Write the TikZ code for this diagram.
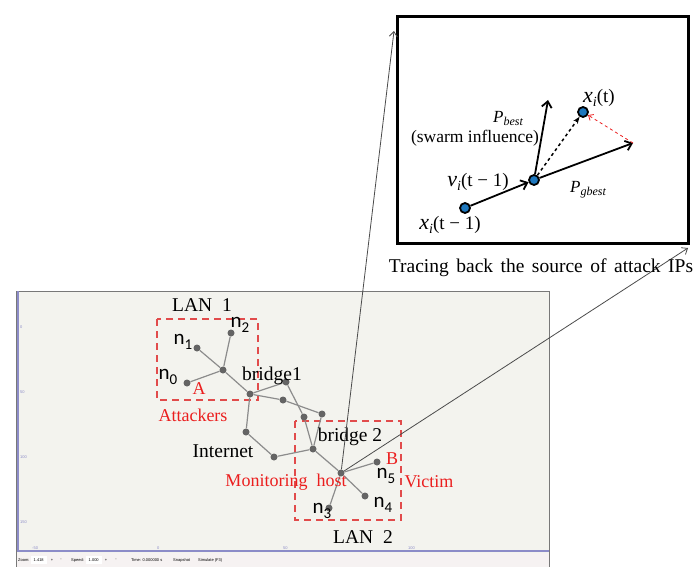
\documentclass[tikz,border=0pt]{standalone}
\usepackage{fontspec}
\setmainfont{Liberation Serif}
\newfontfamily\calib{Carlito}
\newfontfamily\uisans{Liberation Sans}
\usetikzlibrary{arrows.meta}
\definecolor{winbg}{RGB}{243,243,238}
\definecolor{barbg}{RGB}{246,242,242}
\definecolor{framegray}{RGB}{120,120,120}
\definecolor{axisblue}{RGB}{140,140,200}
\definecolor{hostgray}{RGB}{100,100,100}
\definecolor{linkgray}{RGB}{140,140,140}
\definecolor{tipgray}{RGB}{75,75,75}
\definecolor{attackred}{RGB}{235,30,30}
\definecolor{lanred}{RGB}{225,75,75}
\definecolor{partblue}{RGB}{30,120,190}
\newcommand\nlab[1]{{\calib\fontsize{21}{22}\selectfont n\raisebox{-5pt}{\fontsize{15}{15}\selectfont #1}}}
\newcommand\pvar[2]{\textit{#1}\raisebox{-3pt}{\fontsize{12}{12}\selectfont\itshape #2}}
\newcommand\xvar[2]{{\fontsize{22}{22}\selectfont\textit{#1}}\raisebox{-4pt}{\fontsize{14}{14}\selectfont\itshape #2}}
\newcommand\wsp{\hspace{7.5pt}}

\begin{document}
\begin{tikzpicture}[x=1pt,y=-1pt]
  \tikzstyle{host}=[circle,fill=hostgray,inner sep=0,minimum size=7pt]
  \tikzstyle{link}=[draw=linkgray,line width=1.2pt]
  \tikzstyle{lbl}=[font=\fontsize{19.5}{21}\selectfont,inner sep=0]
  \tikzstyle{redlbl}=[font=\fontsize{18}{20}\selectfont,inner sep=0,text=attackred]
  \tikzstyle{lan}=[draw=lanred,line width=1.6pt,dash pattern=on 7pt off 5pt]
  \tikzstyle{tiny}=[font=\uisans\fontsize{4}{4}\selectfont,inner sep=0]
  \tikzstyle{particle}=[circle,draw,line width=1.8pt,fill=partblue,inner sep=0,minimum size=10pt]
  \tikzstyle{vec}=[line width=1.8pt,-{Straight Barb[length=6pt,width=10pt]}]
  \tikzstyle{trace}=[draw=tipgray,line width=0.8pt,-{Straight Barb[length=5pt,width=8pt]}]
  \useasboundingbox (0,0) rectangle (694,567);

  % simulator window
  \fill[winbg] (16,291) rectangle (549,553);
  \fill[barbg] (16,553) rectangle (549,567);
  \draw[framegray,line width=1pt] (16,567) -- (16,291) -- (549,291) -- (549,567);
  \draw[axisblue,line width=1.5pt] (18,291) -- (18,551) -- (549,551);
  \foreach \y/\t in {327/0,392/50,457/100,522/150}
    \node[tiny,text=axisblue,anchor=west] at (20,\y) {\t};
  \foreach \x/\t in {32/-50,157/0,283/50,408/100}
    \node[tiny,text=axisblue,anchor=west] at (\x,548) {\t};
  \node[tiny,anchor=west] (zoom) at (18,560) {Zoom:};
  \node[tiny,draw=white,fill=white,minimum width=15pt,minimum height=7pt,anchor=west] at (31,560) {1.418};
  \node[tiny] at (52,560) {+};
  \node[tiny] at (61,560) {-};
  \node[tiny,anchor=west] (speed) at (71,560) {Speed:};
  \node[tiny,draw=white,fill=white,minimum width=15pt,minimum height=7pt,anchor=west] at (86,560) {1.000};
  \node[tiny] at (106,560) {+};
  \node[tiny] at (116,560) {-};
  \node[tiny,anchor=west] at (131,560) {Time: 0.000000 s};
  \node[tiny,anchor=west] at (173,560) {Snapshot};
  \node[tiny,anchor=west] at (198,560) {Simulate (F3)};

  % LAN boxes
  \draw[lan] (157,319) rectangle (258,400);
  \draw[lan] (295,421) rectangle (401,520);

  % hosts and routers
  \node[host] (n0) at (187,383) {};
  \node[host] (n1) at (197,348) {};
  \node[host] (n2) at (231,333) {};
  \node[host] (hubA) at (223,370) {};
  \node[host] (gw) at (250,394) {};
  \node[host] (br1) at (286,382) {};
  \node[host] (r1) at (283,400) {};
  \node[host] (r2) at (322,414) {};
  \node[host] (r3) at (304,417) {};
  \node[host] (r4) at (246,432) {};
  \node[host] (r5) at (274,457) {};
  \node[host] (br2) at (313,449) {};
  \node[host] (mon) at (341,473) {};
  \node[host] (n3) at (329,508) {};
  \node[host] (n4) at (365,496) {};
  \node[host] (n5) at (377,462) {};
  \foreach \a/\b in {n0/hubA,n1/hubA,n2/hubA,hubA/gw,gw/br1,gw/r1,r1/r2,br1/r3,
                     r3/br2,r2/br2,gw/r4,r4/r5,r5/br2,br2/mon,mon/n3,mon/n4,mon/n5}
    \draw[link] (\a) -- (\b);

  % labels of the network
  \node[lbl] (lan1) at (202,305) {LAN\ \ 1};
  \node[lbl] (lan2) at (363,537) {LAN\ \ 2};
  \node[inner sep=0] at (240,325) {\nlab{2}};
  \node[inner sep=0] at (183,342) {\nlab{1}};
  \node[inner sep=0] at (168,377) {\nlab{0}};
  \node[inner sep=0] at (322,511) {\nlab{3}};
  \node[inner sep=0] at (383,505) {\nlab{4}};
  \node[inner sep=0] at (386,476) {\nlab{5}};
  \node[redlbl] at (199,389) {A};
  \node[redlbl] at (392,459) {B};
  \node[redlbl] (att) at (193,415) {Attackers};
  \node[redlbl] (monlbl) at (286,482) {Monitoring\ \ host};
  \node[redlbl] (vic) at (429,482) {Victim};
  \node[lbl] at (272,376) {bridge1};
  \node[lbl] at (350,437) {bridge\ 2};
  \node[lbl] at (223,451) {Internet};

  % tracing box
  \draw[line width=3pt] (397,17) rectangle (688,243);
  \coordinate (tipA) at (394,31);
  \coordinate (tipB) at (688,248);
  \draw[trace] (mon) -- (tipA);
  \draw[trace] (mon) -- (tipB);
  \node[particle] (xprev) at (465,208) {};
  \node[particle] (mid) at (534,180) {};
  \node[particle] (xt) at (583,112) {};
  \coordinate (pb) at (548,100);
  \coordinate (pg) at (633,143);
  \draw[vec] (xprev) -- (mid);
  \draw[vec] (mid) -- (pb);
  \draw[vec] (mid) -- (pg);
  \draw[line width=1.5pt,dashed,-{Stealth[length=7pt]}] (mid) -- (xt);
  \draw[attackred,line width=0.8pt,dashed,-{Straight Barb[length=4pt,width=7pt]}] (pg) -- (xt);
  \node[inner sep=0] at (599,98) {\xvar{x}{i}{\fontsize{19}{20}\selectfont(t)}};
  \node[inner sep=0,font=\fontsize{17}{18}\selectfont] at (508,118) {\pvar{P}{best}};
  \node[inner sep=0,font=\fontsize{17.5}{18}\selectfont] at (475,138) {(swarm influence)};
  \node[inner sep=0] at (478,182) {\xvar{v}{i}{\fontsize{19}{20}\selectfont(t − 1)}};
  \node[inner sep=0,font=\fontsize{17}{18}\selectfont] at (588,190) {\pvar{P}{gbest}};
  \node[inner sep=0] at (450,225) {\xvar{x}{i}{\fontsize{19}{20}\selectfont(t − 1)}};
  \node[lbl] (caption) at (541,268) {Tracing\wsp back\wsp the\wsp source\wsp of\wsp attack\wsp IPs};
\end{tikzpicture}
\end{document}
